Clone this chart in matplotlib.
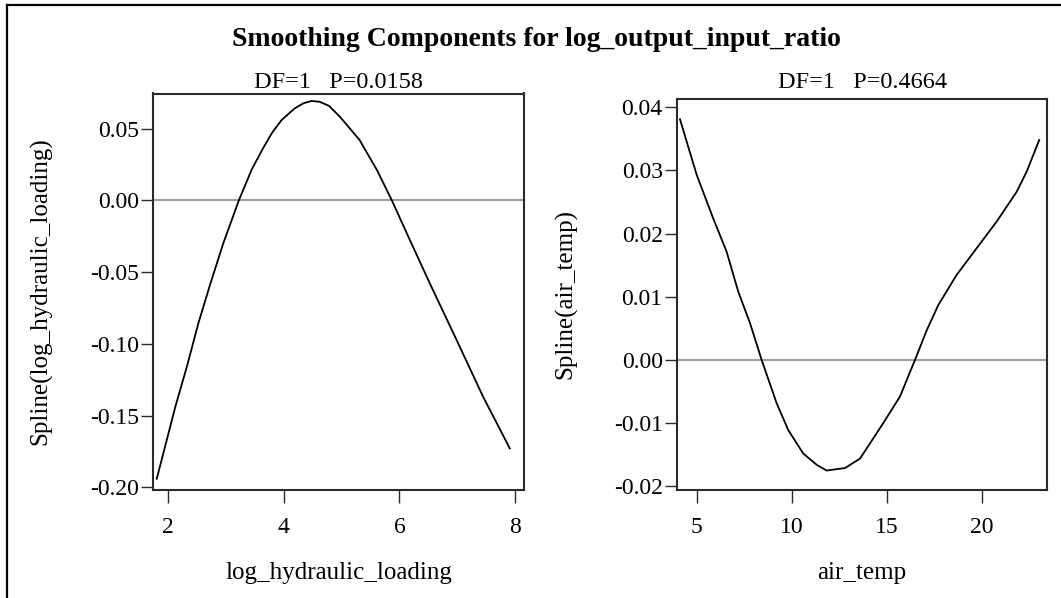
import matplotlib
matplotlib.use("Agg")
import matplotlib.pyplot as plt
from matplotlib.lines import Line2D

# ---- data ----
hyd_x = [1.80, 2.12, 2.32, 2.52, 2.72, 2.95, 3.22, 3.44, 3.62, 3.79, 3.96, 4.19,
         4.34, 4.48, 4.62, 4.78, 4.97, 5.31, 5.61, 5.87, 6.18, 6.54, 6.99, 7.45, 7.91]
hyd_y = [-0.194, -0.144, -0.116, -0.0856, -0.059, -0.030, 0.0, 0.0213, 0.035,
         0.0469, 0.0561, 0.0643, 0.0678, 0.0694, 0.0688, 0.0660, 0.0584, 0.0422,
         0.0213, 0.0, -0.0275, -0.059, -0.0973, -0.137, -0.1728]

air_x = [4.12, 5.0, 5.87, 6.58, 7.19, 7.81, 8.42, 9.21, 9.82, 10.61, 11.32, 11.84,
         12.81, 13.6, 14.82, 15.70, 16.49, 17.11, 17.72, 18.67, 19.74, 20.79,
         21.84, 22.37, 23.03]
air_y = [0.0381, 0.0293, 0.0224, 0.0171, 0.0108, 0.0058, 0.0, -0.00685, -0.0111,
         -0.0148, -0.0166, -0.0175, -0.0171, -0.0156, -0.0100, -0.0058, 0.0,
         0.0047, 0.0087, 0.0134, 0.0177, 0.0219, 0.0266, 0.0298, 0.0348]

hyd_xticks = [2, 4, 6, 8]
hyd_yticks = [-0.20, -0.15, -0.10, -0.05, 0.00, 0.05]
air_xticks = [5, 10, 15, 20]
air_yticks = [-0.02, -0.01, 0.00, 0.01, 0.02, 0.03, 0.04]

title = "Smoothing Components for log_output_input_ratio"
sub1 = "DF=1   P=0.0158"
sub2 = "DF=1   P=0.4664"
xlab1 = "log_hydraulic_loading"
ylab1 = "Spline(log_hydraulic_loading)"
xlab2 = "air_temp"
ylab2 = "Spline(air_temp)"

plt.rcParams['font.family'] = ['Liberation Serif', 'DejaVu Serif']
plt.rcParams['axes.unicode_minus'] = False

W, H = 1061, 598
fig = plt.figure(figsize=(W / 100, H / 100), dpi=100)

def px_axes(l, t, r, b):
    return fig.add_axes([l / W, 1 - b / H, (r - l) / W, (b - t) / H])

ax1 = px_axes(153.3, 93.5, 524, 489.5)
ax2 = px_axes(677.3, 99, 1047, 489.5)

TICK_FS = 17
LAB_FS = 18

def style(ax, x, y, xlim, ylim, xt, yt, xl, yl, yfmt):
    ax.axhline(0, color='#a0a0a0', lw=1.6, zorder=1)
    ax.plot(x, y, color='black', lw=1.3, zorder=2, solid_joinstyle='round')
    ax.set_xlim(*xlim)
    ax.set_ylim(*ylim)
    ax.set_xticks(xt)
    ax.set_xticklabels([str(v) for v in xt])
    ax.set_yticks(yt)
    ax.set_yticklabels([yfmt % v for v in yt])
    for s in ax.spines.values():
        s.set_color('#2a2a2a')
        s.set_linewidth(1.5)
    ax.tick_params(axis='both', direction='out', length=9, width=1.0,
                   color='#2a2a2a', labelsize=TICK_FS)
    ax.tick_params(axis='x', pad=11)
    ax.tick_params(axis='y', pad=1.5)
    ax.set_xlabel(xl, fontsize=LAB_FS)
    ax.set_ylabel(yl, fontsize=LAB_FS)

style(ax1, hyd_x, hyd_y, (1.74, 8.156), (-0.2015, 0.0746), hyd_xticks, hyd_yticks,
      xlab1, ylab1, '%.2f')
style(ax2, air_x, air_y, (3.98, 23.44), (-0.0205, 0.0413), air_xticks, air_yticks,
      xlab2, ylab2, '%.2f')

# label positions (pixel-derived)
ax1.xaxis.set_label_coords(0.5, -84 / 396)
ax1.xaxis.label.set_va('center')
ax2.xaxis.set_label_coords(0.5, -84 / 390.5)
ax2.xaxis.label.set_va('center')
ax1.yaxis.set_label_coords(-112.7 / 370.7, 0.5)
ax1.yaxis.label.set_va('center')
ax2.yaxis.set_label_coords(-111.8 / 369.7, 0.5)
ax2.yaxis.label.set_va('center')

fig.text(536.5 / W, 1 - 39 / H, title, ha='center', va='center',
         fontsize=20, fontweight='bold')
fig.text(338.7 / W, 1 - 83 / H, sub1, ha='center', va='center', fontsize=17.5)
fig.text(862 / W, 1 - 83 / H, sub2, ha='center', va='center', fontsize=17.5)

# outer frame (left and top edges visible)
fx = 7.4 / W
fy = 1 - 4.5 / H
fig.add_artist(Line2D([fx, fx], [0, fy], transform=fig.transFigure,
                      color='black', lw=1.6))
fig.add_artist(Line2D([fx, 1], [fy, fy], transform=fig.transFigure,
                      color='black', lw=1.6))

fig.savefig("out.png", dpi=100, facecolor='white')
